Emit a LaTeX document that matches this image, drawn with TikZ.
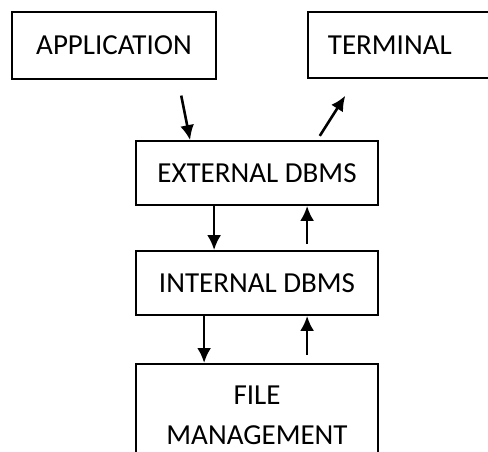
\documentclass[tikz,border=0pt]{standalone}
\usepackage{fontspec}
\setmainfont{Carlito}
\usetikzlibrary{arrows.meta}
\usetikzlibrary{calc}

\begin{document}
\begin{tikzpicture}[x=1pt,y=-1pt,
	box/.style={shape=rectangle,draw,line width=1.8pt,font=\fontsize{29}{40}\selectfont},
	flow/.style={-{Latex[length=15pt,width=14pt]},line width=2.6pt}]
	\useasboundingbox (0,0) rectangle (488,452);
	\clip (0,0) rectangle (488,452);
	\draw (114,45.5) node (app) [box,minimum width=204pt,minimum height=67pt] {APPLICATION};
	\draw (307,45) node (term) [box,anchor=west,minimum height=66pt,inner xsep=20pt,text width=180pt,align=left] {TERMINAL};
	\draw (257,173) node (ext) [box,minimum width=242pt,minimum height=64pt] {EXTERNAL DBMS};
	\draw (257,283) node (int) [box,minimum width=242pt,minimum height=64pt] {INTERNAL DBMS};
	\draw (257,363) node (file) [box,anchor=north,minimum width=242pt,inner ysep=22pt,align=center] {FILE\\MANAGEMENT};
	\draw[flow,shorten <=16pt] ($(app.south west)+(167,0)$) -- ($(ext.north west)+(55,0)$);
	\draw[flow,shorten <=5pt,shorten >=20pt] ($(ext.north west)+(182,0)$) -- ($(term.south west)+(49,0)$);
	\draw[flow] ($(ext.south west)+(79,0)$) -- ($(int.north west)+(79,0)$);
	\draw[flow,shorten <=6pt] ($(int.north west)+(172,0)$) -- ($(ext.south west)+(172,0)$);
	\draw[flow] ($(int.south west)+(69,0)$) -- ($(file.north west)+(69,0)$);
	\draw[flow,shorten <=8pt] ($(file.north west)+(172,0)$) -- ($(int.south west)+(172,0)$);
\end{tikzpicture}
\end{document}
